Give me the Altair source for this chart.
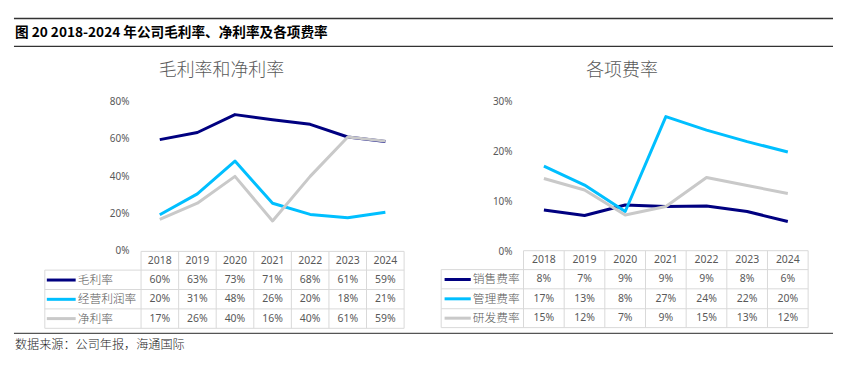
import altair as alt
import pandas as pd

# ---------------- data ----------------
years = ["2018", "2019", "2020", "2021", "2022", "2023", "2024"]

left_series = ["毛利率", "经营利润率", "净利率"]
gross = [59.9, 63.7, 73.3, 70.6, 68.1, 61.3, 58.9]
op_margin = [19.6, 30.8, 48.4, 25.8, 19.8, 18.0, 21.0]
net = [17.2, 25.8, 40.2, 16.3, 40.2, 61.3, 59.1]
left_values = [gross, op_margin, net]
left_labels = [
    ["60%", "63%", "73%", "71%", "68%", "61%", "59%"],
    ["20%", "31%", "48%", "26%", "20%", "18%", "21%"],
    ["17%", "26%", "40%", "16%", "40%", "61%", "59%"],
]
left_ticks = [0, 20, 40, 60, 80]

right_series = ["销售费率", "管理费率", "研发费率"]
sales = [8.4, 7.3, 9.4, 9.1, 9.2, 8.1, 6.1]
mgmt = [17.2, 13.4, 8.1, 27.1, 24.4, 22.1, 20.0]
rnd = [14.7, 12.4, 7.4, 9.1, 14.9, 13.3, 11.7]
right_values = [sales, mgmt, rnd]
right_labels = [
    ["8%", "7%", "9%", "9%", "9%", "8%", "6%"],
    ["17%", "13%", "8%", "27%", "24%", "22%", "20%"],
    ["15%", "12%", "7%", "9%", "15%", "13%", "12%"],
]
right_ticks = [0, 10, 20, 30]

series_colors = ["#000080", "#00BFFF", "#C9C9C9"]

fig_title = "图 20 2018-2024 年公司毛利率、净利率及各项费率"
left_title = "毛利率和净利率"
right_title = "各项费率"
source_text = "数据来源：公司年报，海通国际"

# ---------------- layout (page pixels) ----------------
O = 8  # page margin
W, H = 829, 358
CJK = "Noto Sans CJK SC"
NUM = "Noto Sans"
GRID = "#D9D9D9"
TXT = "#595959"

panels = [
    dict(series=left_series, values=left_values, labels=left_labels, ticks=left_ticks,
         ymax=80, y0=251.7, y1=101.7, xfirst=160.5, xlast=387.2, ylab_x=130,
         leg_left=45, col_left=141.7, col_w=37.76,
         rows=[251.7, 270.5, 290.0, 309.5, 329.0],
         sw=(47, 76), lab_x=78, title=left_title, title_x=222.5),
    dict(series=right_series, values=right_values, labels=right_labels, ticks=right_ticks,
         ymax=30, y0=252.3, y1=101.7, xfirst=546.5, xlast=791.6, ylab_x=515,
         leg_left=443.3, col_left=526.0, col_w=40.86,
         rows=[251.0, 270.0, 289.3, 309.3, 328.3],
         sw=(446.7, 473), lab_x=475, title=right_title, title_x=625),
]


def p(v):
    return v - O


def rule_layer(segs, color, width):
    vals = [dict(x=p(a), x2=p(b), y=p(c), y2=p(d)) for a, b, c, d in segs]
    return alt.Chart(alt.Data(values=vals)).mark_rule(color=color, strokeWidth=width).encode(
        x=alt.X("x:Q", scale=None), x2="x2:Q",
        y=alt.Y("y:Q", scale=None), y2="y2:Q")


def text_layer(text, x, y, size, color, weight="normal", align="left", font=CJK):
    return alt.Chart(alt.Data(values=[{}])).mark_text(
        text=text, fontSize=size, color=color, fontWeight=weight, align=align,
        baseline="middle", font=font
    ).encode(x=alt.value(p(x)), y=alt.value(p(y)))


layers = []

# header / footer
layers.append(rule_layer([(14, 837, 17.7, 17.7), (14, 837, 45.7, 45.7)], "#333333", 1.3))
layers.append(rule_layer([(14, 837, 334, 334)], "#555555", 1.3))
layers.append(text_layer(fig_title, 15, 32.5, 13.7, "#000000", weight="bold"))
layers.append(text_layer(source_text, 15, 345.5, 12.2, "#222222", weight=300))

for pn in panels:
    xs = alt.Scale(type="point", domain=years, range=[p(pn["xfirst"]), p(pn["xlast"])], padding=0)
    ys = alt.Scale(domain=[0, pn["ymax"]], range=[p(pn["y0"]), p(pn["y1"])])
    rows = pn["rows"]
    row_centers = [(rows[i] + rows[i + 1]) / 2 for i in range(4)]
    row_domain = ["_hdr"] + pn["series"]
    rs = alt.Scale(type="point", domain=row_domain, range=[p(row_centers[0]), p(row_centers[3])], padding=0)

    # panel title
    layers.append(text_layer(pn["title"], pn["title_x"], 70, 18, TXT, weight=300, align="center"))

    # y tick labels
    tick_df = pd.DataFrame({"v": pn["ticks"], "t": [f"{t}%" for t in pn["ticks"]]})
    layers.append(alt.Chart(tick_df).mark_text(
        align="right", baseline="middle", fontSize=10, color=TXT, font=NUM
    ).encode(x=alt.value(p(pn["ylab_x"])), y=alt.Y("v:Q", scale=ys, axis=None), text="t:N"))

    # lines
    for name, vals, col in zip(pn["series"], pn["values"], series_colors):
        df = pd.DataFrame({"year": years, "value": vals})
        layers.append(alt.Chart(df).mark_line(color=col, strokeWidth=3, strokeJoin="round").encode(
            x=alt.X("year:O", scale=xs, axis=None),
            y=alt.Y("value:Q", scale=ys, axis=None)))

    # table grid
    cl, cw, ll = pn["col_left"], pn["col_w"], pn["leg_left"]
    right_edge = cl + 7 * cw
    segs = [(cl + i * cw, cl + i * cw, rows[0], rows[4]) for i in range(8)]
    segs.append((ll, ll, rows[1], rows[4]))
    segs.append((cl, right_edge, rows[0], rows[0]))
    for r in rows[1:]:
        segs.append((ll, right_edge, r, r))
    layers.append(rule_layer(segs, GRID, 1))

    # table header (years)
    hdr = pd.DataFrame({"year": years, "row": ["_hdr"] * 7, "t": years})
    cells = pd.DataFrame([
        {"year": y, "row": s, "t": lab}
        for s, labs in zip(pn["series"], pn["labels"]) for y, lab in zip(years, labs)
    ])
    tbl = pd.concat([hdr, cells], ignore_index=True)
    layers.append(alt.Chart(tbl).mark_text(
        align="center", baseline="middle", fontSize=10.5, color=TXT, font=NUM
    ).encode(x=alt.X("year:O", scale=xs, axis=None),
             y=alt.Y("row:N", scale=rs, axis=None), text="t:N"))

    # legend swatches + names
    for name, col in zip(pn["series"], series_colors):
        sdf = pd.DataFrame({"row": [name]})
        layers.append(alt.Chart(sdf).mark_rule(color=col, strokeWidth=3).encode(
            x=alt.value(p(pn["sw"][0])), x2=alt.value(p(pn["sw"][1])),
            y=alt.Y("row:N", scale=rs, axis=None)))
    lab_df = pd.DataFrame({"row": pn["series"]})
    layers.append(alt.Chart(lab_df).mark_text(
        align="left", baseline="middle", fontSize=11.8, color=TXT, font=CJK, fontWeight=300
    ).encode(x=alt.value(p(pn["lab_x"])), y=alt.Y("row:N", scale=rs, axis=None), text="row:N"))

chart = alt.layer(*layers).resolve_scale(
    x="independent", y="independent", color="independent"
).properties(
    width=W, height=H, padding=0, background="white",
    autosize=alt.AutoSizeParams(type="none")
).configure_view(strokeWidth=0)

chart.save("out.html", embed_options={"renderer": "svg", "actions": False})
